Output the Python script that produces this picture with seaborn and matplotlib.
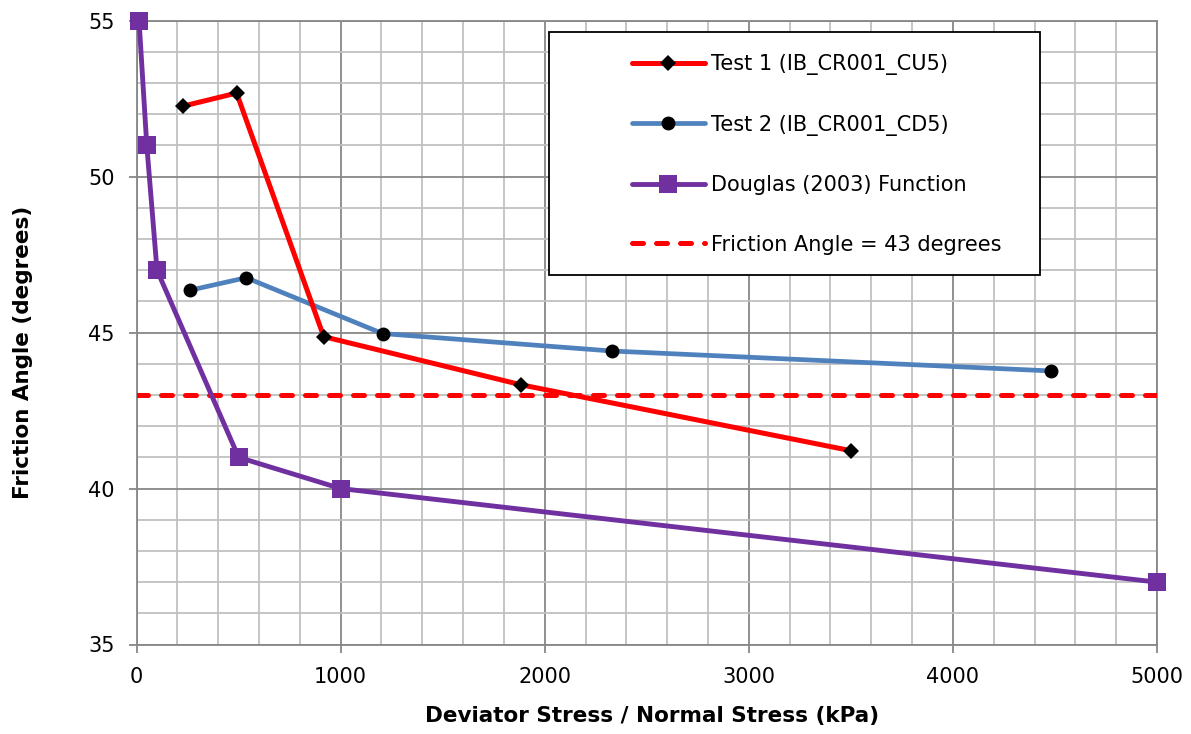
import matplotlib
matplotlib.use("Agg")
import matplotlib.pyplot as plt
from matplotlib.patches import Rectangle
from matplotlib.ticker import MultipleLocator
import seaborn as sns
import pandas as pd

# Test 1 (IB_CR001_CU5)
test1_stress = [227, 490, 917, 1882, 3503]
test1_angle = [52.26, 52.68, 44.87, 43.33, 41.21]

# Test 2 (IB_CR001_CD5)
test2_stress = [263, 537, 1205, 2328, 4483]
test2_angle = [46.36, 46.76, 44.97, 44.41, 43.77]

# Douglas (2003) function
douglas_stress = [12, 50, 100, 500, 1000, 5000]
douglas_angle = [55, 51, 47, 41, 40, 37]

# Constant reference friction angle
ref_angle = 43
ref_stress = [0, 5000]

labels = [
    "Test 1 (IB_CR001_CU5)",
    "Test 2 (IB_CR001_CD5)",
    "Douglas (2003) Function",
    "Friction Angle = 43 degrees",
]

sns.set_style("white")
plt.rcParams["font.family"] = ["DejaVu Sans"]
plt.rcParams["text.color"] = "black"
plt.rcParams["axes.labelcolor"] = "black"

W, H = 1191, 734
fig = plt.figure(figsize=(W / 100, H / 100), dpi=100)
ax = fig.add_axes([136.6 / W, 1 - 644.5 / H, (1157 - 136.6) / W, (644.5 - 20.7) / H])

major_c = "#878787"
minor_c = "#c0c0c0"

df1 = pd.DataFrame({"x": test1_stress, "y": test1_angle})
df2 = pd.DataFrame({"x": test2_stress, "y": test2_angle})
df3 = pd.DataFrame({"x": douglas_stress, "y": douglas_angle})
df4 = pd.DataFrame({"x": ref_stress, "y": [ref_angle] * len(ref_stress)})

sns.lineplot(data=df4, x="x", y="y", ax=ax, color="#ff0000", lw=3.6,
             dashes=False, label=labels[3], zorder=3)
ref_line = ax.lines[-1]
ref_line.set_dashes([2.2, 2.6])
ref_line.set_dash_capstyle("round")

sns.lineplot(data=df3, x="x", y="y", ax=ax, color="#7030a0", lw=3.5,
             marker="s", markersize=13.5, markeredgewidth=0,
             markerfacecolor="#7030a0", label=labels[2], zorder=4, sort=False,
             clip_on=False)
sns.lineplot(data=df2, x="x", y="y", ax=ax, color="#4f81bd", lw=3.4,
             marker="o", markersize=10, markeredgewidth=0,
             markerfacecolor="black", label=labels[1], zorder=5, sort=False,
             clip_on=False)
sns.lineplot(data=df1, x="x", y="y", ax=ax, color="#ff0000", lw=3.6,
             marker="D", markersize=8, markeredgewidth=0,
             markerfacecolor="black", label=labels[0], zorder=6, sort=False,
             clip_on=False)

ax.set_xlim(0, 5000)
ax.set_ylim(35, 55)
ax.xaxis.set_major_locator(MultipleLocator(1000))
ax.xaxis.set_minor_locator(MultipleLocator(200))
ax.yaxis.set_major_locator(MultipleLocator(5))
ax.yaxis.set_minor_locator(MultipleLocator(1))

ax.grid(which="minor", color=minor_c, lw=1.3, zorder=0)
ax.grid(which="major", color=major_c, lw=1.3, zorder=0.5)
ax.set_axisbelow(True)

for s in ax.spines.values():
    s.set_color(major_c)
    s.set_linewidth(1.3)

ax.tick_params(which="major", direction="out", length=6, width=1.3,
               color=major_c, labelsize=15, labelcolor="black",
               left=True, bottom=True)
ax.tick_params(which="minor", length=0)
ax.tick_params(axis="x", pad=10)
ax.tick_params(axis="y", pad=10)

ax.set_xlabel("Deviator Stress / Normal Stress (kPa)", fontsize=15.5,
              fontweight="bold")
ax.set_ylabel("Friction Angle (degrees)", fontsize=15.5, fontweight="bold")
ax.xaxis.set_label_coords(0.5 + (652 - 646.8) / 1020.4, (644.5 - 706) / 623.8)
ax.yaxis.set_label_coords((33 - 136.6) / 1020.4, 0.5 + (332.7 - 352.5) / 623.8)

# Legend box with black frame
ax.get_legend().remove()
box = Rectangle((549 / W, 1 - 275 / H), (1040 - 549) / W, (275 - 32) / H,
                transform=fig.transFigure, facecolor="white",
                edgecolor="black", lw=1.3, zorder=10)
fig.add_artist(box)

handles, lbls = ax.get_legend_handles_labels()
hmap = dict(zip(lbls, handles))
leg = fig.legend([hmap[l] for l in labels], labels,
                 loc="upper left", bbox_to_anchor=(632 / W, 1 - 54 / H),
                 frameon=False, fontsize=15, handlelength=3.5,
                 handletextpad=0.3, labelspacing=1.9, borderpad=0,
                 borderaxespad=0)
leg.set_zorder(11)

fig.savefig("out.png", dpi=100)
